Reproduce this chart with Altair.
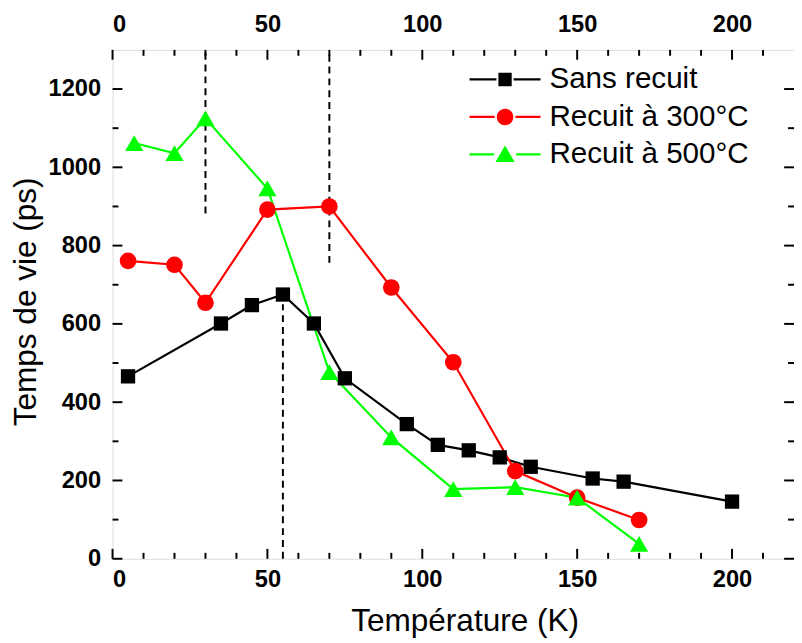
import altair as alt
import pandas as pd

series_names = ["Sans recuit", "Recuit à 300°C", "Recuit à 500°C"]
series_colors = ["#000000", "#ff0000", "#00ff00"]
series_shapes = ["square", "circle", "triangle-up"]
series_sizes = [210, 285, 340]

t_sans = [5, 35, 45, 55, 65, 75, 95, 105, 115, 125, 135, 155, 165, 200]
v_sans = [466, 601, 648, 675, 601, 461, 344, 291, 277, 259, 235, 205, 197, 146]
t_300 = [5, 20, 30, 50, 70, 90, 110, 130, 150, 170]
v_300 = [761, 751, 654, 892, 900, 693, 502, 224, 156, 99]
t_500 = [7, 20, 30, 50, 70, 90, 110, 130, 150, 170]
v_500 = [1062, 1036, 1125, 946, 477, 310, 178, 183, 156, 38]

dash_t = [30, 70, 55]
dash_lo = [882, 756, 0]
dash_hi = [1300, 1300, 650]

x_major = [0, 50, 100, 150, 200]
x_minor = [10, 20, 30, 40, 60, 70, 80, 90, 110, 120, 130, 140, 160, 170, 180, 190, 210]
y_major = [0, 200, 400, 600, 800, 1000, 1200]
y_minor = [100, 300, 500, 700, 900, 1100]

rows = []
for name, ts, vs in zip(series_names, [t_sans, t_300, t_500], [v_sans, v_300, v_500]):
    for t, v in zip(ts, vs):
        rows.append({"T": t, "V": v, "serie": name})
df = pd.DataFrame(rows)
dash_df = pd.DataFrame({"t": dash_t, "lo": dash_lo, "hi": dash_hi})

W, H = 691, 516
FONT = "Liberation Sans"

xscale = alt.Scale(domain=[0, 220], nice=False, zero=False)
yscale = alt.Scale(domain=[0, 1300], nice=False, zero=False)
cscale = alt.Scale(domain=series_names, range=series_colors)

# legend glyphs: line segment (thin filled bar) + marker, in a unit box scaled by sqrt(size)/2
legend_paths = [
    "M-2.4,-0.075H-0.58V0.075H-2.4ZM0.58,-0.075H2.4V0.075H0.58ZM-0.45,-0.45H0.45V0.45H-0.45Z",
    "M-2.4,-0.075H-0.7V0.075H-2.4ZM0.7,-0.075H2.4V0.075H0.7ZM0.56,0A0.56,0.56 0 1,1 -0.56,0A0.56,0.56 0 1,1 0.56,0Z",
    "M-2.4,-0.075H-0.75V0.075H-2.4ZM0.75,-0.075H2.4V0.075H0.75ZM0,-0.6L0.65,0.52L-0.65,0.52Z",
]


def make_legend():
    return alt.Legend(
        title=None, orient="none", legendX=383, legendY=15,
        symbolSize=900, symbolStrokeWidth=0, symbolOpacity=1, labelOffset=30,
        labelFont=FONT, labelFontSize=30, labelColor="black", labelLimit=400,
        rowPadding=8, padding=0,
    )


bottom_axis = alt.Axis(
    orient="bottom", values=x_major, ticks=False, domain=False, grid=False,
    labelFont=FONT, labelFontWeight="bold", labelFontSize=24, labelColor="black",
    labelPadding=9, format="d", title="Température (K)", titleFont=FONT, titleFontSize=32,
    titleFontWeight="normal", titleColor="black", titlePadding=15, titleX=357,
)
top_axis = alt.Axis(
    orient="top", values=x_major, ticks=False, domain=False, grid=False,
    labelFont=FONT, labelFontWeight="bold", labelFontSize=24, labelColor="black",
    labelPadding=14, format="d", title=None,
)
left_axis = alt.Axis(
    orient="left", values=y_major, ticks=False, domain=False, grid=False,
    labelFont=FONT, labelFontWeight="bold", labelFontSize=24, labelColor="black",
    labelPadding=12, format="d", title="Temps de vie (ps)", titleFont=FONT, titleFontSize=32,
    titleFontWeight="normal", titleColor="black", titlePadding=6, titleY=255,
)

X_plain = lambda f: alt.X(f, scale=xscale, axis=None)
Y_main = lambda f: alt.Y(f, scale=yscale, axis=left_axis)

legend_layer = alt.Chart(df).mark_point(filled=True, opacity=0).encode(
    x=X_plain("T:Q"),
    y=Y_main("V:Q"),
    color=alt.Color("serie:N", scale=cscale, legend=make_legend()),
    shape=alt.Shape("serie:N", scale=alt.Scale(domain=series_names, range=legend_paths),
                    legend=make_legend()),
)

lines = alt.Chart(df).mark_line(strokeWidth=2.2).encode(
    x=alt.X("T:Q", scale=xscale, axis=bottom_axis),
    y=Y_main("V:Q"),
    color=alt.Color("serie:N", scale=cscale, legend=make_legend()),
    detail="serie:N",
)

point_layers = []
for name, shp, sz in zip(series_names, series_shapes, series_sizes):
    point_layers.append(
        alt.Chart(df).transform_filter(alt.datum.serie == name)
        .mark_point(filled=True, opacity=1, strokeWidth=0, shape=shp, size=sz)
        .encode(
            x=X_plain("T:Q"),
            y=Y_main("V:Q"),
            color=alt.Color("serie:N", scale=cscale, legend=make_legend()),
        )
    )

dashes = alt.Chart(dash_df).mark_rule(color="black", strokeWidth=2, strokeDash=[7, 5]).encode(
    x=alt.X("t:Q", scale=xscale, axis=top_axis),
    y=Y_main("lo:Q"),
    y2="hi:Q",
)

xmaj = pd.DataFrame({"v": x_major})
xmin = pd.DataFrame({"v": x_minor})
ymaj = pd.DataFrame({"v": y_major})
ymin = pd.DataFrame({"v": y_minor})


def xticks(data, length):
    b = alt.Chart(data).mark_rule(color="black", strokeWidth=2).encode(
        x=X_plain("v:Q"), y=alt.value(H), y2=alt.value(H - length))
    t = alt.Chart(data).mark_rule(color="black", strokeWidth=2).encode(
        x=X_plain("v:Q"), y=alt.value(0), y2=alt.value(length))
    return [b, t]


def yticks(data, length):
    l = alt.Chart(data).mark_rule(color="black", strokeWidth=2).encode(
        y=Y_main("v:Q"), x=alt.value(0), x2=alt.value(length))
    r = alt.Chart(data).mark_rule(color="black", strokeWidth=2).encode(
        y=Y_main("v:Q"), x=alt.value(W), x2=alt.value(W - length))
    return [l, r]


tick_layers = xticks(xmaj, 10) + xticks(xmin, 6) + yticks(ymaj, 10) + yticks(ymin, 6)

chart = alt.layer(legend_layer, lines, dashes, *point_layers, *tick_layers).resolve_axis(
    x="independent"
).properties(
    width=W, height=H,
    autosize=alt.AutoSizeParams(type="none"),
    padding={"left": 106, "top": 38, "right": 0, "bottom": 85},
).configure_view(
    stroke="black", strokeWidth=2.5
).configure(background="white")

chart.save("out.html", embed_options={"renderer": "svg", "actions": False})
